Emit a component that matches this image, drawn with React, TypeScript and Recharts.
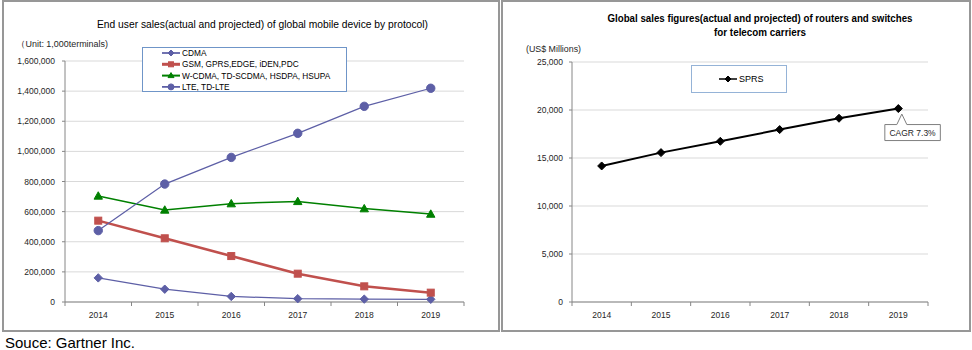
import React from "react";
import { LineChart, Line, XAxis, YAxis, CartesianGrid, Legend, LabelList } from "recharts";

const years = ["2014", "2015", "2016", "2017", "2018", "2019"];
const cdma = [160000, 85000, 37000, 22000, 19000, 18000];
const gsm = [540000, 423000, 305000, 188000, 104000, 62000];
const wcdma = [704000, 611000, 653000, 668000, 620000, 584000];
const lte = [474000, 783000, 960000, 1120000, 1299000, 1419000];
const sprs = [14170, 15560, 16740, 17960, 19140, 20150];

const leftTicks = [0, 200000, 400000, 600000, 800000, 1000000, 1200000, 1400000, 1600000];
const rightTicks = [0, 5000, 10000, 15000, 20000, 25000];

const leftSeries = [
  { key: "cdma", name: "CDMA", color: "#5d5fa6", shape: "diamond", width: 1.25 },
  { key: "gsm", name: "GSM, GPRS,EDGE, iDEN,PDC", color: "#c0504d", shape: "square", width: 2.5 },
  { key: "wcdma", name: "W-CDMA, TD-SCDMA, HSDPA, HSUPA", color: "#008000", shape: "triangle", width: 1.5 },
  { key: "lte", name: "LTE, TD-LTE", color: "#5d5fa6", shape: "circle", width: 1.25 },
];

const leftData = years.map((y, i) => ({ year: y, cdma: cdma[i], gsm: gsm[i], wcdma: wcdma[i], lte: lte[i] }));
const rightData = years.map((y, i) => ({ year: y, sprs: sprs[i] }));

const AXIS = "#868686";
const GRID = "#d9d9d9";
const TXT = "#262626";
const FONT = "'Liberation Sans', Arial, sans-serif";

const fmt = (v: number) => v.toLocaleString("en-US");

function Marker({ cx, cy, shape, color, r = 4 }: any) {
  if (cx == null || cy == null) return null;
  if (shape === "diamond")
    return <polygon points={`${cx},${cy - r} ${cx + r},${cy} ${cx},${cy + r} ${cx - r},${cy}`} fill={color} stroke={color} />;
  if (shape === "square")
    return <rect x={cx - r + 0.5} y={cy - r + 0.5} width={2 * r - 1} height={2 * r - 1} fill={color} stroke={color} />;
  if (shape === "triangle")
    return <polygon points={`${cx},${cy - r} ${cx + r},${cy + r - 1} ${cx - r},${cy + r - 1}`} fill={color} stroke={color} />;
  return <circle cx={cx} cy={cy} r={r} fill={color} stroke={color} />;
}

function XTick({ x, y, payload, index, half, count, size }: any) {
  return (
    <g>
      <line x1={x - half} y1={y} x2={x - half} y2={y + 4} stroke={AXIS} />
      {index === count - 1 && <line x1={x + half} y1={y} x2={x + half} y2={y + 4} stroke={AXIS} />}
      <text x={x} y={y + 16} textAnchor="middle" fontSize={size} fill={TXT} fontFamily={FONT}>
        {payload.value}
      </text>
    </g>
  );
}

function LeftLegend() {
  return (
    <div style={{ width: 205, height: 45, border: "1px solid #6f95c8", background: "#fff", boxSizing: "border-box" }}>
      <svg width={203} height={43}>
        {leftSeries.map((s, i) => {
          const y = 5 + i * 11.3;
          return (
            <g key={s.key}>
              <line x1={19} y1={y} x2={37} y2={y} stroke={s.color} strokeWidth={s.width + 0.5} />
              <Marker cx={28} cy={y} shape={s.shape} color={s.color} r={3} />
              <text x={39} y={y + 3} fontSize={8.3} fill="#000" fontFamily={FONT}>{s.name}</text>
            </g>
          );
        })}
      </svg>
    </div>
  );
}

function RightLegend() {
  return (
    <div style={{ width: 96, height: 28, border: "1px solid #95b3d7", background: "#fff", boxSizing: "border-box" }}>
      <svg width={94} height={26}>
        <line x1={27} y1={13} x2={45} y2={13} stroke="#000" strokeWidth={1.5} />
        <Marker cx={36} cy={13} shape="diamond" color="#000" r={3} />
        <text x={47} y={16} fontSize={9} fill="#000" fontFamily={FONT}>SPRS</text>
      </svg>
    </div>
  );
}

function Callout(props: any) {
  const { x, y, index } = props;
  if (index !== sprs.length - 1) return null;
  const d = `M${x - 13.5},${y + 16} L${x - 1.5},${y + 16} L${x + 3.5},${y + 5.5} L${x + 8.5},${y + 16} L${x + 42},${y + 16} L${x + 42},${y + 32} L${x - 13.5},${y + 32} Z`;
  return (
    <g>
      <path d={d} fill="#fff" stroke="#7f7f7f" strokeWidth={1} />
      <text x={x + 14.2} y={y + 27.5} textAnchor="middle" fontSize={8.5} fill={TXT} fontFamily={FONT}>CAGR 7.3%</text>
    </g>
  );
}

const panelBorder: React.CSSProperties = {
  position: "absolute",
  inset: 0,
  border: "2px solid #979797",
  boxSizing: "border-box",
  pointerEvents: "none",
};

export default function App() {
  const lW = 498, lH = 332;
  const lMargin = { top: 61, right: 36, bottom: 10, left: 3 };
  const lHalf = (lW - lMargin.left - lMargin.right - 60) / years.length / 2;

  const rW = 470, rH = 332;
  const rMargin = { top: 62, right: 43, bottom: 10, left: 11 };
  const rHalf = (rW - rMargin.left - rMargin.right - 60) / years.length / 2;

  return (
    <div style={{ position: "absolute", left: 0, top: 0, width: 972, height: 350, background: "#fff", fontFamily: FONT }}>
      <div style={{ position: "absolute", left: 2, top: 0, width: lW, height: lH }}>
        <LineChart width={lW} height={lH} data={leftData} margin={lMargin}>
          <CartesianGrid horizontal vertical={false} stroke={GRID} />
          <XAxis
            dataKey="year"
            height={20}
            padding={{ left: lHalf, right: lHalf }}
            axisLine={{ stroke: AXIS }}
            tickLine={false}
            tickSize={0}
            tickMargin={0}
            interval={0}
            tick={(p: any) => <XTick {...p} half={lHalf} count={years.length} size={8.5} />}
          />
          <YAxis
            width={60}
            domain={[0, 1600000]}
            ticks={leftTicks}
            tickFormatter={fmt}
            axisLine={{ stroke: AXIS }}
            tickLine={{ stroke: AXIS }}
            tickSize={3}
            tickMargin={7}
            tick={{ fontSize: 8.5, fill: TXT, fontFamily: FONT }}
          />
          <Legend
            content={() => <LeftLegend />}
            layout="horizontal"
            verticalAlign="middle"
            align="center"
            wrapperStyle={{ position: "absolute", left: 140, top: 47, width: 205, height: 45 }}
          />
          {leftSeries.map((s) => (
            <Line
              key={s.key}
              dataKey={s.key}
              name={s.name}
              stroke={s.color}
              strokeWidth={s.width}
              isAnimationActive={false}
              dot={(p: any) => <Marker key={`${s.key}-${p.index}`} cx={p.cx} cy={p.cy} shape={s.shape} color={s.color} r={s.shape === "square" ? 4 : 4.2} />}
              activeDot={false}
            />
          ))}
        </LineChart>
        <div style={panelBorder} />
      </div>

      <div style={{ position: "absolute", left: 501, top: 0, width: rW, height: rH }}>
        <LineChart width={rW} height={rH} data={rightData} margin={rMargin}>
          <CartesianGrid horizontal vertical={false} stroke={GRID} />
          <XAxis
            dataKey="year"
            height={20}
            padding={{ left: rHalf, right: rHalf }}
            axisLine={{ stroke: AXIS }}
            tickLine={false}
            tickSize={0}
            tickMargin={0}
            interval={0}
            tick={(p: any) => <XTick {...p} half={rHalf} count={years.length} size={8.5} />}
          />
          <YAxis
            width={60}
            domain={[0, 25000]}
            ticks={rightTicks}
            tickFormatter={fmt}
            axisLine={{ stroke: AXIS }}
            tickLine={{ stroke: AXIS }}
            tickSize={3}
            tickMargin={6}
            tick={{ fontSize: 8.5, fill: TXT, fontFamily: FONT }}
          />
          <Legend
            content={() => <RightLegend />}
            layout="horizontal"
            verticalAlign="middle"
            align="center"
            wrapperStyle={{ position: "absolute", left: 190, top: 65, width: 96, height: 28 }}
          />
          <Line
            dataKey="sprs"
            name="SPRS"
            stroke="#000"
            strokeWidth={2}
            isAnimationActive={false}
            dot={(p: any) => <Marker key={`sprs-${p.index}`} cx={p.cx} cy={p.cy} shape="diamond" color="#000" r={4} />}
            activeDot={false}
          >
            <LabelList dataKey="sprs" content={(p: any) => <Callout {...p} />} />
          </Line>
        </LineChart>
        <div style={panelBorder} />
      </div>

      <svg width={972} height={350} style={{ position: "absolute", left: 0, top: 0, pointerEvents: "none" }}>
        <text x={262.5} y={28} textAnchor="middle" fontSize={11} fill="#000" fontFamily={FONT} textLength={331} lengthAdjust="spacingAndGlyphs">
          End user sales(actual and projected) of global mobile device by protocol)
        </text>
        <text x={16} y={47} fontSize={8.5} fill={TXT} fontFamily={FONT} textLength={92} lengthAdjust="spacingAndGlyphs">
          （Unit: 1,000terminals)
        </text>
        <text x={760} y={21.5} textAnchor="middle" fontSize={10} fontWeight="bold" fill="#000" fontFamily={FONT} textLength={305} lengthAdjust="spacingAndGlyphs">
          Global sales figures(actual and projected) of routers and switches
        </text>
        <text x={760} y={35.5} textAnchor="middle" fontSize={10} fontWeight="bold" fill="#000" fontFamily={FONT} textLength={92} lengthAdjust="spacingAndGlyphs">
          for telecom carriers
        </text>
        <text x={526} y={51.5} fontSize={9} fill={TXT} fontFamily={FONT} textLength={55} lengthAdjust="spacingAndGlyphs">
          (US$ Millions)
        </text>
        <text x={5} y={347.5} fontSize={14.5} fill="#000" fontFamily={FONT} textLength={130} lengthAdjust="spacingAndGlyphs">
          Souce: Gartner Inc.
        </text>
      </svg>
    </div>
  );
}
